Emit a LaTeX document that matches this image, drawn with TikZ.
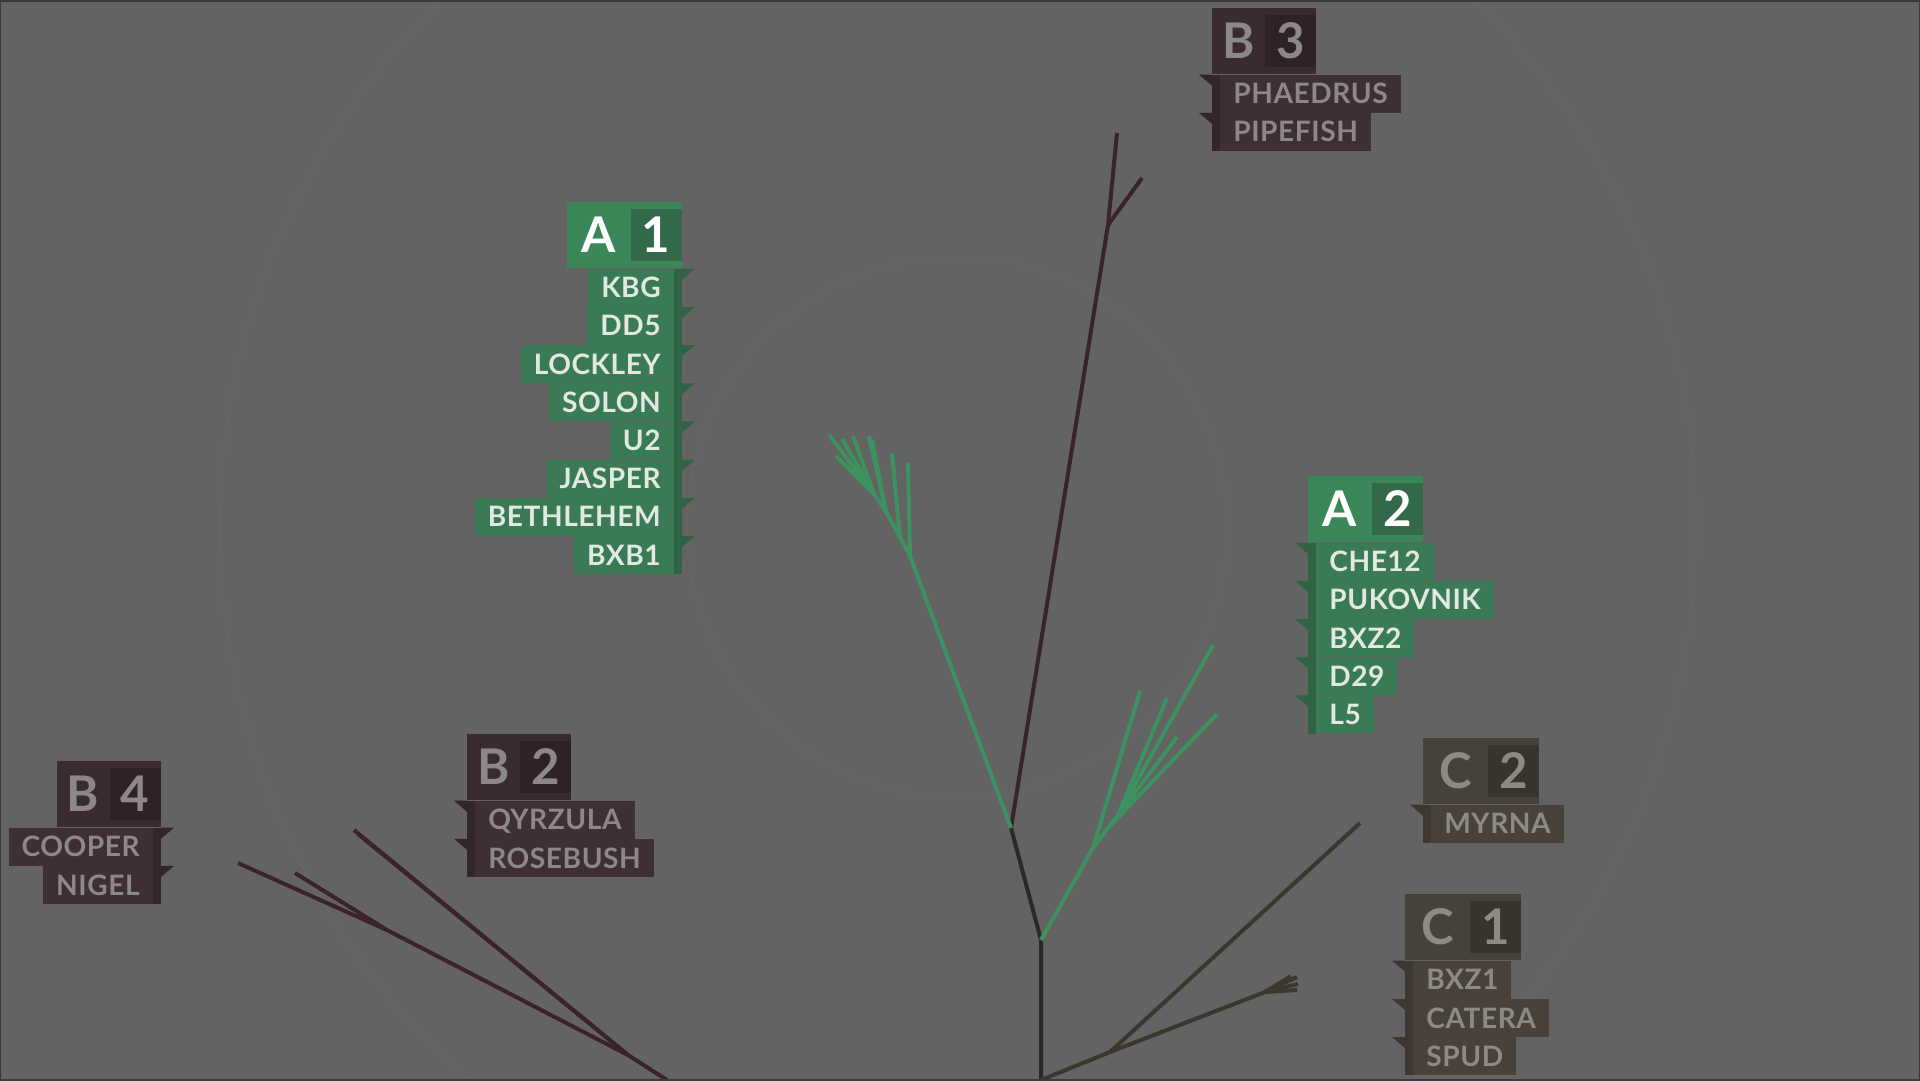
\documentclass[tikz,border=0pt]{standalone}
\usepackage{fontspec}
\setmainfont{Lato}
\newfontfamily\rowfont[LetterSpace=2]{Lato}
\usepackage{tikz}
\usetikzlibrary{positioning, calc}

\definecolor{bg}{RGB}{99,99,99}
\definecolor{ring}{RGB}{102,102,102}
\definecolor{frame}{RGB}{58,58,58}
% green group
\definecolor{ahd}{RGB}{60,135,90}
\definecolor{adg}{RGB}{50,106,73}
\definecolor{arw}{RGB}{58,123,85}
\definecolor{asp}{RGB}{48,98,68}
\definecolor{atx}{RGB}{226,232,226}
% maroon group
\definecolor{bhd}{RGB}{58,43,47}
\definecolor{bdg}{RGB}{46,34,37}
\definecolor{brw}{RGB}{62,47,51}
\definecolor{bsp}{RGB}{50,38,41}
\definecolor{btx}{RGB}{140,135,136}
% brown group
\definecolor{chd}{RGB}{70,65,57}
\definecolor{cdg}{RGB}{56,52,45}
\definecolor{crw}{RGB}{72,66,58}
\definecolor{csp}{RGB}{60,55,48}
\definecolor{ctx}{RGB}{140,138,133}
% branches
\definecolor{trunk}{RGB}{42,42,42}
\definecolor{grbr}{RGB}{62,146,96}
\definecolor{mrbr}{RGB}{58,36,41}
\definecolor{olbr}{RGB}{58,55,46}

\begin{document}
\begin{tikzpicture}[
        x=0.02cm, y=-0.02cm,
        every node/.style={inner sep=0pt},
        head/.style={rectangle, minimum height=1.32cm},
        digit/.style={rectangle, minimum width=1.02cm, minimum height=1.04cm, font=\fontsize{28}{28}\selectfont\bfseries, text height=0.7cm, text depth=0pt},
        letter/.style={font=\fontsize{28}{28}\selectfont\bfseries, text height=0.7cm, text depth=0pt},
        row/.style={rectangle, minimum height=0.75cm, inner xsep=0.26cm, font=\rowfont\fontsize{16}{16}\selectfont\bfseries, text height=0.4cm, text depth=0pt},
        ahead/.style={head, fill=ahd, minimum width=2.3cm},
        adigit/.style={digit, fill=adg, text=white},
        aletter/.style={letter, text=white},
        arow/.style={row, fill=arw, text=atx},
        aspine/.style={fill=asp},
        bhead/.style={head, fill=bhd, minimum width=2.08cm},
        bdigit/.style={digit, fill=bdg, text=btx},
        bletter/.style={letter, text=btx},
        brow/.style={row, fill=brw, text=btx},
        bspine/.style={fill=bsp},
        chead/.style={head, fill=chd, minimum width=2.32cm},
        cdigit/.style={digit, fill=cdg, text=ctx},
        cletter/.style={letter, text=ctx},
        crow/.style={row, fill=crw, text=ctx},
        cspine/.style={fill=csp},
        twig/.style={line width=0.08cm, line join=round},
        greenbr/.style={twig, draw=grbr},
        darkbr/.style={twig, draw=trunk},
        maroonbr/.style={twig, draw=mrbr},
        olivebr/.style={twig, draw=olbr}
        ]

        % Background and faint rings
        \fill[bg] (0,0) rectangle (1920,1080);
        \useasboundingbox (0,0) rectangle (1920,1080);
        \draw[ring, line width=0.03cm] (957,527) circle (270);
        \draw[ring, line width=0.03cm] (958,527) circle (738);

        % Tree points
        \coordinate (root) at (1041,1080);
        \coordinate (j1) at (1041,940);
        \coordinate (j2) at (1011,828);
        \coordinate (b3f) at (1108,225);
        \coordinate (b3t1) at (1117,133);
        \coordinate (b3t2) at (1142,178);

        \coordinate (a1f1) at (910,556);
        \coordinate (a1f2) at (900,537);
        \coordinate (a1f3) at (886,512);
        \coordinate (a1f4) at (874,494);
        \coordinate (a1t1) at (908,463);
        \coordinate (a1t2) at (892,453);
        \coordinate (a1t3) at (869,436);
        \coordinate (a1t4) at (872,440);
        \coordinate (a1t5) at (853,436);
        \coordinate (a1t6) at (842,439);
        \coordinate (a1t7) at (829,435);
        \coordinate (a1t8) at (836,456);

        \coordinate (a2f1) at (1093,848);
        \coordinate (a2f2) at (1108,828);
        \coordinate (a2f3) at (1118,815);
        \coordinate (a2t1) at (1140,691);
        \coordinate (a2t2) at (1217,714);
        \coordinate (a2t3) at (1213,645);
        \coordinate (a2t4) at (1167,698);
        \coordinate (a2t5) at (1177,737);

        \coordinate (cf1) at (1110,1052);
        \coordinate (cf2) at (1265,992);
        \coordinate (ct1) at (1360,823);
        \coordinate (ct2) at (1297,977);
        \coordinate (ct3) at (1298,984);
        \coordinate (ct4) at (1297,990);
        \coordinate (ct5) at (1291,976);

        \coordinate (broot) at (667,1080);
        \coordinate (bf1) at (628,1055);
        \coordinate (bf2) at (387,930);
        \coordinate (b2t1) at (354,830);
        \coordinate (b2t2) at (358,834);
        \coordinate (b4t1) at (238,863);
        \coordinate (b4t2) at (295,873);

        % Branches
        \draw[darkbr] (root) -- (j1) -- (j2);
        \draw[maroonbr] (j2) -- (b3f) -- (b3t1);
        \draw[maroonbr] (b3f) -- (b3t2);

        \draw[greenbr] (j2) -- (a1f1) -- (a1t1);
        \draw[greenbr] (a1f1) -- (a1f2) -- (a1t2);
        \draw[greenbr] (a1f2) -- (a1f3) -- (a1t3);
        \draw[greenbr] (a1f3) -- (a1t4);
        \draw[greenbr] (a1f3) -- (a1f4) -- (a1t5);
        \draw[greenbr] (a1f4) -- (a1t6);
        \draw[greenbr] (a1f4) -- (a1t7);
        \draw[greenbr] (a1f4) -- (a1t8);

        \draw[greenbr] (j1) -- (a2f1) -- (a2t1);
        \draw[greenbr] (a2f1) -- (a2f2) -- (a2t2);
        \draw[greenbr] (a2f2) -- (a2f3) -- (a2t3);
        \draw[greenbr] (a2f3) -- (a2t4);
        \draw[greenbr] (a2f3) -- (a2t5);

        \draw[olivebr] (root) -- (cf1) -- (ct1);
        \draw[olivebr] (cf1) -- (cf2) -- (ct2);
        \draw[olivebr] (cf2) -- (ct3);
        \draw[olivebr] (cf2) -- (ct4);
        \draw[olivebr] (cf2) -- (ct5);

        \draw[maroonbr] (broot) -- (bf1) -- (b2t1);
        \draw[maroonbr] (bf1) -- (b2t2);
        \draw[maroonbr] (bf1) -- (bf2) -- (b4t1);
        \draw[maroonbr] (bf2) -- (b4t2);

        % A1 label
        \node[ahead, anchor=north east] (a1) at (682,202) {};
        \node[adigit, anchor=east] (a1d) at (a1.east) {1};
        \node[aletter] (a1l) at ($(a1.west)!0.5!(a1d.west)$) {A};
        \node[arow, anchor=north east] (kbg) at ([xshift=-0.16cm]a1.south east) {KBG};
        \node[arow, anchor=north east] (dd5) at (kbg.south east) {DD5};
        \node[arow, anchor=north east] (lockley) at (dd5.south east) {LOCKLEY};
        \node[arow, anchor=north east] (solon) at (lockley.south east) {SOLON};
        \node[arow, anchor=north east] (u2) at (solon.south east) {U2};
        \node[arow, anchor=north east] (jasper) at (u2.south east) {JASPER};
        \node[arow, anchor=north east] (bethlehem) at (jasper.south east) {BETHLEHEM};
        \node[arow, anchor=north east] (bxb1) at (bethlehem.south east) {BXB1};
        \fill[aspine] (a1.south east) rectangle (kbg.east |- bxb1.south);
        \fill[aspine] (a1.east |- kbg.north) -- ++(13,0) -- ++(-13,11) -- cycle;
        \fill[aspine] (a1.east |- dd5.north) -- ++(13,0) -- ++(-13,11) -- cycle;
        \fill[aspine] (a1.east |- lockley.north) -- ++(13,0) -- ++(-13,11) -- cycle;
        \fill[aspine] (a1.east |- solon.north) -- ++(13,0) -- ++(-13,11) -- cycle;
        \fill[aspine] (a1.east |- u2.north) -- ++(13,0) -- ++(-13,11) -- cycle;
        \fill[aspine] (a1.east |- jasper.north) -- ++(13,0) -- ++(-13,11) -- cycle;
        \fill[aspine] (a1.east |- bethlehem.north) -- ++(13,0) -- ++(-13,11) -- cycle;
        \fill[aspine] (a1.east |- bxb1.north) -- ++(13,0) -- ++(-13,11) -- cycle;

        % A2 label
        \node[ahead, anchor=north west] (a2) at (1308,476) {};
        \node[adigit, anchor=east] (a2d) at (a2.east) {2};
        \node[aletter] (a2l) at ($(a2.west)!0.5!(a2d.west)$) {A};
        \node[arow, anchor=north west] (che12) at ([xshift=0.16cm]a2.south west) {CHE12};
        \node[arow, anchor=north west] (pukovnik) at (che12.south west) {PUKOVNIK};
        \node[arow, anchor=north west] (bxz2) at (pukovnik.south west) {BXZ2};
        \node[arow, anchor=north west] (d29) at (bxz2.south west) {D29};
        \node[arow, anchor=north west] (l5) at (d29.south west) {L5};
        \fill[aspine] (a2.south west) rectangle (che12.west |- l5.south);
        \fill[aspine] (a2.west |- che12.north) -- ++(-13,0) -- ++(13,11) -- cycle;
        \fill[aspine] (a2.west |- pukovnik.north) -- ++(-13,0) -- ++(13,11) -- cycle;
        \fill[aspine] (a2.west |- bxz2.north) -- ++(-13,0) -- ++(13,11) -- cycle;
        \fill[aspine] (a2.west |- d29.north) -- ++(-13,0) -- ++(13,11) -- cycle;
        \fill[aspine] (a2.west |- l5.north) -- ++(-13,0) -- ++(13,11) -- cycle;

        % B3 label
        \node[bhead, anchor=north west] (b3) at (1212,8) {};
        \node[bdigit, anchor=east] (b3d) at (b3.east) {3};
        \node[bletter] (b3l) at ($(b3.west)!0.5!(b3d.west)$) {B};
        \node[brow, anchor=north west] (phaedrus) at ([xshift=0.16cm]b3.south west) {PHAEDRUS};
        \node[brow, anchor=north west] (pipefish) at (phaedrus.south west) {PIPEFISH};
        \fill[bspine] (b3.south west) rectangle (phaedrus.west |- pipefish.south);
        \fill[bspine] (b3.west |- phaedrus.north) -- ++(-13,0) -- ++(13,11) -- cycle;
        \fill[bspine] (b3.west |- pipefish.north) -- ++(-13,0) -- ++(13,11) -- cycle;

        % B2 label
        \node[bhead, anchor=north west] (b2) at (467,734) {};
        \node[bdigit, anchor=east] (b2d) at (b2.east) {2};
        \node[bletter] (b2l) at ($(b2.west)!0.5!(b2d.west)$) {B};
        \node[brow, anchor=north west] (qyrzula) at ([xshift=0.16cm]b2.south west) {QYRZULA};
        \node[brow, anchor=north west] (rosebush) at (qyrzula.south west) {ROSEBUSH};
        \fill[bspine] (b2.south west) rectangle (qyrzula.west |- rosebush.south);
        \fill[bspine] (b2.west |- qyrzula.north) -- ++(-13,0) -- ++(13,11) -- cycle;
        \fill[bspine] (b2.west |- rosebush.north) -- ++(-13,0) -- ++(13,11) -- cycle;

        % B4 label
        \node[bhead, anchor=north east] (b4) at (161,761) {};
        \node[bdigit, anchor=east] (b4d) at (b4.east) {4};
        \node[bletter] (b4l) at ($(b4.west)!0.5!(b4d.west)$) {B};
        \node[brow, anchor=north east] (cooper) at ([xshift=-0.16cm]b4.south east) {COOPER};
        \node[brow, anchor=north east] (nigel) at (cooper.south east) {NIGEL};
        \fill[bspine] (b4.south east) rectangle (cooper.east |- nigel.south);
        \fill[bspine] (b4.east |- cooper.north) -- ++(13,0) -- ++(-13,11) -- cycle;
        \fill[bspine] (b4.east |- nigel.north) -- ++(13,0) -- ++(-13,11) -- cycle;

        % C2 label
        \node[chead, anchor=north west] (c2) at (1423,738) {};
        \node[cdigit, anchor=east] (c2d) at (c2.east) {2};
        \node[cletter] (c2l) at ($(c2.west)!0.5!(c2d.west)$) {C};
        \node[crow, anchor=north west] (myrna) at ([xshift=0.16cm]c2.south west) {MYRNA};
        \fill[cspine] (c2.south west) rectangle (myrna.west |- myrna.south);
        \fill[cspine] (c2.west |- myrna.north) -- ++(-13,0) -- ++(13,11) -- cycle;

        % C1 label
        \node[chead, anchor=north west] (c1) at (1405,894) {};
        \node[cdigit, anchor=east] (c1d) at (c1.east) {1};
        \node[cletter] (c1l) at ($(c1.west)!0.5!(c1d.west)$) {C};
        \node[crow, anchor=north west] (bxz1) at ([xshift=0.16cm]c1.south west) {BXZ1};
        \node[crow, anchor=north west] (catera) at (bxz1.south west) {CATERA};
        \node[crow, anchor=north west] (spud) at (catera.south west) {SPUD};
        \fill[cspine] (c1.south west) rectangle (bxz1.west |- spud.south);
        \fill[cspine] (c1.west |- bxz1.north) -- ++(-13,0) -- ++(13,11) -- cycle;
        \fill[cspine] (c1.west |- catera.north) -- ++(-13,0) -- ++(13,11) -- cycle;
        \fill[cspine] (c1.west |- spud.north) -- ++(-13,0) -- ++(13,11) -- cycle;

        % Frame
        \draw[frame, line width=0.06cm] (0,0) rectangle (1920,1080);

    \end{tikzpicture}
\end{document}
